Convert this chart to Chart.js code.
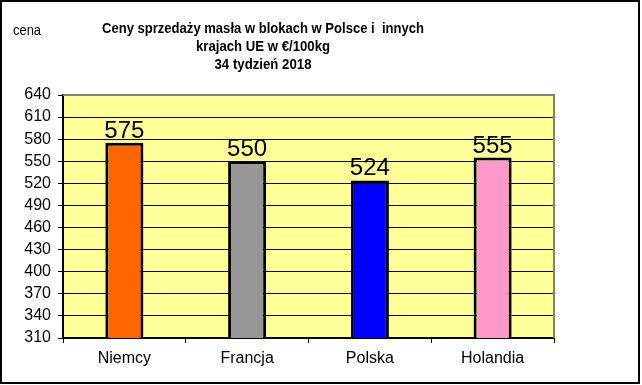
<!DOCTYPE html>
<html>
<head>
<meta charset="utf-8">
<script src="https://cdn.jsdelivr.net/npm/chart.js@4/dist/chart.umd.min.js"></script>
<style>
  html, body { margin: 0; padding: 0; background: #fff; }
  #wrap { width: 642px; height: 385px; }
</style>
</head>
<body>
<div id="wrap"><canvas id="barChart" width="642" height="385"></canvas></div>
<script>
var kraje = ["Niemcy", "Francja", "Polska", "Holandia"];
var ceny = [575, 550, 524, 555];
var kolory = ["#ff6600", "#969696", "#0000ff", "#ff99cc"];
var tytul = ["Ceny sprzedaży masła w blokach w Polsce i  innych", "krajach UE w €/100kg", "34 tydzień 2018"];
var szerokosciTytulu = [322, 134, 97];
var FONT = "'Liberation Sans', Arial, sans-serif";

var ramki = {
  id: "ramki",
  beforeDraw: function (chart) {
    var c = chart.ctx, a = chart.chartArea;
    c.save();
    c.fillStyle = "#fff";
    c.fillRect(0, 0, chart.width, chart.height);
    c.fillStyle = "#ffff99";
    c.fillRect(a.left, a.top, a.right - a.left, a.bottom - a.top);
    c.restore();
  },
  afterDraw: function (chart) {
    var c = chart.ctx, a = chart.chartArea;
    c.save();
    // szara ramka góra/prawo
    c.strokeStyle = "#808080";
    c.lineWidth = 2;
    c.beginPath();
    c.moveTo(a.left, a.top);
    c.lineTo(a.right, a.top);
    c.lineTo(a.right, a.bottom);
    c.stroke();
    // ramka zewnętrzna
    c.strokeStyle = "#000";
    c.lineWidth = 2;
    c.strokeRect(1, 1, 638, 382);
    // tytuł i opis osi (lekko zwężony krój)
    c.fillStyle = "#000";
    c.textAlign = "center";
    c.textBaseline = "alphabetic";
    c.font = "bold 15px " + FONT;
    tytul.forEach(function (t, i) { c.fillText(t, 263, 33 + i * 18, szerokosciTytulu[i]); });
    c.textAlign = "left";
    c.font = "15px " + FONT;
    c.fillText("cena", 13, 35, 28);
    c.restore();
  },
  afterDatasetsDraw: function (chart) {
    var c = chart.ctx;
    c.save();
    c.fillStyle = "#000";
    c.font = "24px " + FONT;
    c.textAlign = "center";
    c.textBaseline = "alphabetic";
    chart.getDatasetMeta(0).data.forEach(function (bar, i) {
      c.fillText(ceny[i], bar.x, bar.y - 5);
    });
    c.restore();
  }
};

var ctx = document.getElementById("barChart").getContext("2d");
var myChart = new Chart(ctx, {
  type: "bar",
  data: {
    labels: kraje,
    datasets: [{
      data: ceny,
      backgroundColor: kolory,
      borderColor: "#000",
      borderWidth: 3,
      borderSkipped: false,
      categoryPercentage: 1,
      barPercentage: 0.31
    }]
  },
  options: {
    responsive: false,
    animation: false,
    layout: { padding: { top: 95, right: 88, left: 0, bottom: 0 } },
    plugins: { legend: { display: false }, tooltip: { enabled: false }, title: { display: false } },
    scales: {
      y: {
        min: 310,
        max: 640,
        afterFit: function (s) { s.width = 63; },
        ticks: { stepSize: 30, autoSkip: false, color: "#000", font: { family: FONT, size: 16 }, padding: 7 },
        grid: { color: "#000", lineWidth: 1, tickLength: 5 },
        border: { color: "#000", width: 2 }
      },
      x: {
        afterFit: function (s) { s.height = 47; },
        ticks: { color: "#000", font: { family: FONT, size: 16 }, padding: 6 },
        grid: { offset: true, drawOnChartArea: false, color: "#000", tickLength: 5 },
        border: { color: "#000", width: 2 }
      }
    }
  },
  plugins: [ramki]
});
</script>
</body>
</html>
